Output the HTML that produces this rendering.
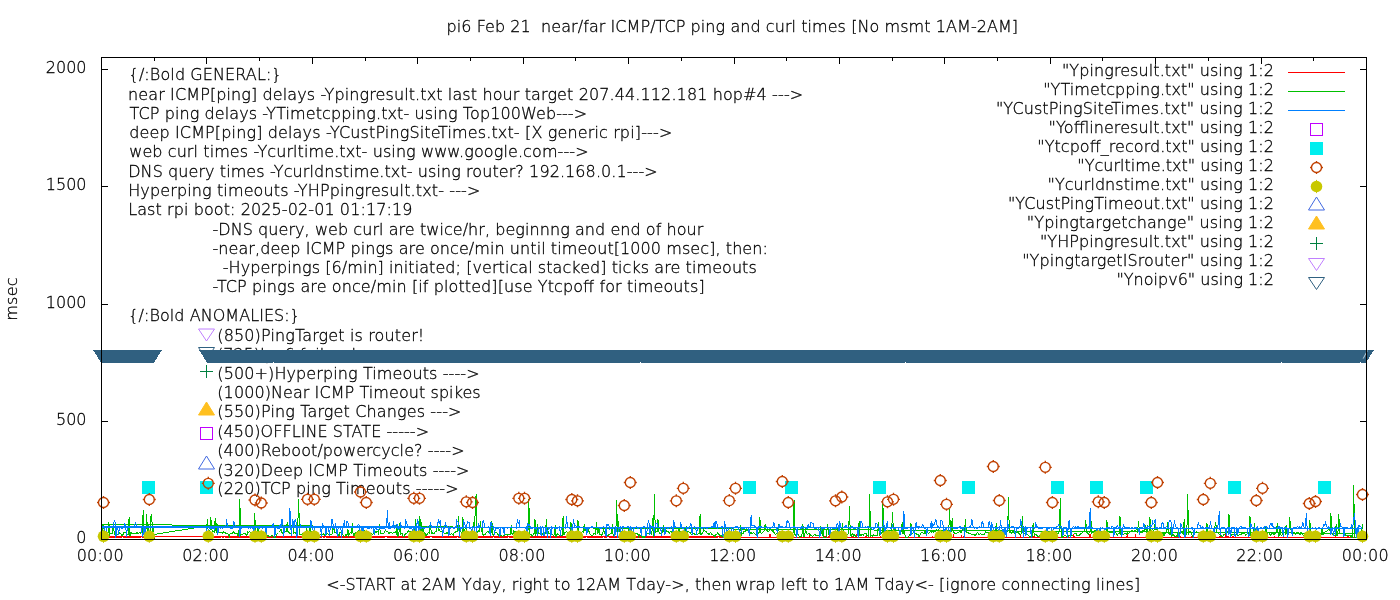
<!DOCTYPE html>
<html lang="en"><head><meta charset="utf-8"><title>pi6 ping plot</title>
<style>html,body{margin:0;padding:0;background:#fff}svg{display:block}text{font-family:"DejaVu Sans","Liberation Sans",sans-serif;font-size:16px;font-weight:200;fill:#000;stroke:#000;stroke-width:0.3px}.ln{fill:none;stroke-width:1;shape-rendering:crispEdges}.cr{shape-rendering:crispEdges}</style></head><body>
<svg width="1400" height="600" viewBox="0 0 1400 600">
<rect width="1400" height="600" fill="#fff"/>
<text transform="translate(17,299) rotate(-90)" text-anchor="middle" letter-spacing="0.2">msec</text>
<text id="t0" x="446.49" y="31.70" textLength="571.62" lengthAdjust="spacing" xml:space="preserve">pi6 Feb 21  near/far ICMP/TCP ping and curl times [No msmt 1AM-2AM]</text>
<text id="t1" x="326.30" y="590.00" textLength="405.23" lengthAdjust="spacing" xml:space="preserve">&lt;-START at 2AM Yday, right to 12AM Tday-&gt;, then</text>
<text id="t2" x="735.50" y="590.00" textLength="404.63" lengthAdjust="spacing" xml:space="preserve">wrap left to 1AM Tday&lt;- [ignore connecting lines]</text>
<text id="t3" x="86.50" y="542.50" text-anchor="end" letter-spacing="0" xml:space="preserve">0</text>
<text id="t4" x="86.50" y="424.50" text-anchor="end" letter-spacing="0" xml:space="preserve">500</text>
<text id="t5" x="86.50" y="307.50" text-anchor="end" letter-spacing="0" xml:space="preserve">1000</text>
<text id="t6" x="86.50" y="189.50" text-anchor="end" letter-spacing="0" xml:space="preserve">1500</text>
<text id="t7" x="86.50" y="72.50" text-anchor="end" letter-spacing="0" xml:space="preserve">2000</text>
<text id="t8" x="100.30" y="561.30" text-anchor="middle" letter-spacing="0.2" xml:space="preserve">00:00</text>
<text id="t9" x="205.72" y="561.30" text-anchor="middle" letter-spacing="0.2" xml:space="preserve">02:00</text>
<text id="t10" x="311.13" y="561.30" text-anchor="middle" letter-spacing="0.2" xml:space="preserve">04:00</text>
<text id="t11" x="416.55" y="561.30" text-anchor="middle" letter-spacing="0.2" xml:space="preserve">06:00</text>
<text id="t12" x="521.97" y="561.30" text-anchor="middle" letter-spacing="0.2" xml:space="preserve">08:00</text>
<text id="t13" x="627.38" y="561.30" text-anchor="middle" letter-spacing="0.2" xml:space="preserve">10:00</text>
<text id="t14" x="732.80" y="561.30" text-anchor="middle" letter-spacing="0.2" xml:space="preserve">12:00</text>
<text id="t15" x="838.22" y="561.30" text-anchor="middle" letter-spacing="0.2" xml:space="preserve">14:00</text>
<text id="t16" x="943.63" y="561.30" text-anchor="middle" letter-spacing="0.2" xml:space="preserve">16:00</text>
<text id="t17" x="1049.05" y="561.30" text-anchor="middle" letter-spacing="0.2" xml:space="preserve">18:00</text>
<text id="t18" x="1154.47" y="561.30" text-anchor="middle" letter-spacing="0.2" xml:space="preserve">20:00</text>
<text id="t19" x="1259.88" y="561.30" text-anchor="middle" letter-spacing="0.2" xml:space="preserve">22:00</text>
<text id="t20" x="1365.30" y="561.30" text-anchor="middle" letter-spacing="0.2" xml:space="preserve">00:00</text>
<text id="t21" x="128.60" y="80.00" textLength="153.01" lengthAdjust="spacing" xml:space="preserve">{/:Bold GENERAL:}</text>
<text id="t22" x="128.10" y="100.00" textLength="675.07" lengthAdjust="spacing" xml:space="preserve">near ICMP[ping] delays -Ypingresult.txt last hour target 207.44.112.181 hop#4 ---&gt;</text>
<text id="t23" x="129.50" y="119.00" textLength="457.65" lengthAdjust="spacing" xml:space="preserve">TCP ping delays -YTimetcpping.txt- using Top100Web---&gt;</text>
<text id="t24" x="129.20" y="138.00" textLength="543.09" lengthAdjust="spacing" xml:space="preserve">deep ICMP[ping] delays -YCustPingSiteTimes.txt- [X generic rpi]---&gt;</text>
<text id="t25" x="129.20" y="157.00" textLength="459.39" lengthAdjust="spacing" xml:space="preserve">web curl times -Ycurltime.txt- using www.google.com---&gt;</text>
<text id="t26" x="128.20" y="177.00" textLength="529.53" lengthAdjust="spacing" xml:space="preserve">DNS query times -Ycurldnstime.txt- using router? 192.168.0.1---&gt;</text>
<text id="t27" x="128.20" y="196.00" textLength="352.21" lengthAdjust="spacing" xml:space="preserve">Hyperping timeouts -YHPpingresult.txt- ---&gt;</text>
<text id="t28" x="128.20" y="215.00" textLength="284.19" lengthAdjust="spacing" xml:space="preserve">Last rpi boot: 2025-02-01 01:17:19</text>
<text id="t29" x="212.50" y="235.00" textLength="490.90" lengthAdjust="spacing" xml:space="preserve">-DNS query, web curl are twice/hr, beginnng and end of hour</text>
<text id="t30" x="212.50" y="254.00" textLength="555.39" lengthAdjust="spacing" xml:space="preserve">-near,deep ICMP pings are once/min until timeout[1000 msec], then:</text>
<text id="t31" x="222.75" y="273.00" textLength="534.06" lengthAdjust="spacing" xml:space="preserve">-Hyperpings [6/min] initiated; [vertical stacked] ticks are timeouts</text>
<text id="t32" x="212.50" y="292.00" textLength="492.14" lengthAdjust="spacing" xml:space="preserve">-TCP pings are once/min [if plotted][use Ytcpoff for timeouts]</text>
<text id="t33" x="128.25" y="321.00" textLength="171.69" lengthAdjust="spacing" xml:space="preserve">{/:Bold ANOMALIES:}</text>
<text id="t34" x="217.30" y="340.50" textLength="206.97" lengthAdjust="spacing" xml:space="preserve">(850)PingTarget is router!</text>
<text id="t35" x="217.00" y="360.00" textLength="139.89" lengthAdjust="spacing" xml:space="preserve">(725)Ipv6 failure!</text>
<text id="t36" x="217.30" y="379.00" textLength="262.32" lengthAdjust="spacing" xml:space="preserve">(500+)Hyperping Timeouts ----&gt;</text>
<text id="t37" x="217.30" y="398.00" textLength="263.37" lengthAdjust="spacing" xml:space="preserve">(1000)Near ICMP Timeout spikes</text>
<text id="t38" x="217.30" y="417.00" textLength="244.18" lengthAdjust="spacing" xml:space="preserve">(550)Ping Target Changes ---&gt;</text>
<text id="t39" x="217.30" y="437.00" textLength="211.75" lengthAdjust="spacing" xml:space="preserve">(450)OFFLINE STATE -----&gt;</text>
<text id="t40" x="217.30" y="456.00" textLength="247.30" lengthAdjust="spacing" xml:space="preserve">(400)Reboot/powercycle? ----&gt;</text>
<text id="t41" x="217.30" y="475.50" textLength="252.18" lengthAdjust="spacing" xml:space="preserve">(320)Deep ICMP Timeouts ----&gt;</text>
<text id="t42" x="217.30" y="494.00" textLength="241.35" lengthAdjust="spacing" xml:space="preserve">(220)TCP ping Timeouts -----&gt;</text>
<text id="t43" x="1061.90" y="76.00" textLength="212.00" lengthAdjust="spacing" xml:space="preserve">"Ypingresult.txt" using 1:2</text>
<text id="t44" x="1043.19" y="95.00" textLength="230.71" lengthAdjust="spacing" xml:space="preserve">"YTimetcpping.txt" using 1:2</text>
<text id="t45" x="995.90" y="114.00" textLength="278.00" lengthAdjust="spacing" xml:space="preserve">"YCustPingSiteTimes.txt" using 1:2</text>
<text id="t46" x="1048.58" y="133.00" textLength="225.32" lengthAdjust="spacing" xml:space="preserve">"Yofflineresult.txt" using 1:2</text>
<text id="t47" x="1037.27" y="152.00" textLength="236.63" lengthAdjust="spacing" xml:space="preserve">"Ytcpoff_record.txt" using 1:2</text>
<text id="t48" x="1077.30" y="171.00" textLength="196.60" lengthAdjust="spacing" xml:space="preserve">"Ycurltime.txt" using 1:2</text>
<text id="t49" x="1047.48" y="190.00" textLength="226.42" lengthAdjust="spacing" xml:space="preserve">"Ycurldnstime.txt" using 1:2</text>
<text id="t50" x="1007.92" y="209.00" textLength="265.98" lengthAdjust="spacing" xml:space="preserve">"YCustPingTimeout.txt" using 1:2</text>
<text id="t51" x="1026.76" y="228.00" textLength="247.14" lengthAdjust="spacing" xml:space="preserve">"Ypingtargetchange" using 1:2</text>
<text id="t52" x="1039.93" y="247.00" textLength="233.97" lengthAdjust="spacing" xml:space="preserve">"YHPpingresult.txt" using 1:2</text>
<text id="t53" x="1022.15" y="266.00" textLength="251.75" lengthAdjust="spacing" xml:space="preserve">"YpingtargetISrouter" using 1:2</text>
<text id="t54" x="1116.43" y="285.00" textLength="157.47" lengthAdjust="spacing" xml:space="preserve">"Ynoipv6" using 1:2</text>
<g class="cr" stroke="#000" stroke-width="1" fill="none">
<path d="M101 539.5H108 M1367 539.5H1360"/>
<path d="M101 421.5H108 M1367 421.5H1360"/>
<path d="M101 304.5H108 M1367 304.5H1360"/>
<path d="M101 186.5H108 M1367 186.5H1360"/>
<path d="M101 69.5H108 M1367 69.5H1360"/>
<path d="M101.5 540V533 M101.5 57V64"/>
<path d="M154.5 540V536 M154.5 57V61"/>
<path d="M206.5 540V533 M206.5 57V64"/>
<path d="M259.5 540V536 M259.5 57V61"/>
<path d="M312.5 540V533 M312.5 57V64"/>
<path d="M365.5 540V536 M365.5 57V61"/>
<path d="M417.5 540V533 M417.5 57V64"/>
<path d="M470.5 540V536 M470.5 57V61"/>
<path d="M523.5 540V533 M523.5 57V64"/>
<path d="M575.5 540V536 M575.5 57V61"/>
<path d="M628.5 540V533 M628.5 57V64"/>
<path d="M681.5 540V536 M681.5 57V61"/>
<path d="M734.5 540V533 M734.5 57V64"/>
<path d="M786.5 540V536 M786.5 57V61"/>
<path d="M839.5 540V533 M839.5 57V64"/>
<path d="M892.5 540V536 M892.5 57V61"/>
<path d="M944.5 540V533 M944.5 57V64"/>
<path d="M997.5 540V536 M997.5 57V61"/>
<path d="M1050.5 540V533 M1050.5 57V64"/>
<path d="M1102.5 540V536 M1102.5 57V61"/>
<path d="M1155.5 540V533 M1155.5 57V64"/>
<path d="M1208.5 540V536 M1208.5 57V61"/>
<path d="M1261.5 540V533 M1261.5 57V64"/>
<path d="M1313.5 540V536 M1313.5 57V61"/>
<path d="M1366.5 540V533 M1366.5 57V64"/>
</g>
<path d="M206.5 341.0L198.5 329.0L214.5 329.0Z" fill="none" stroke="#c080ff"/>
<path d="M206.5 359.5L198.5 347.5L214.5 347.5Z" fill="none" stroke="#306080"/>
<path class="cr" d="M200.0 371.5h13 M206.5 365.0v13" stroke="#008040" fill="none"/>
<path d="M206.5 402.0L198.5 415.0L214.5 415.0Z" fill="#ffc020" stroke="#ffc020"/>
<rect class="cr" x="200.5" y="427.5" width="12" height="12" fill="none" stroke="#c000ff"/>
<path d="M206.5 456.0L198.5 469.0L214.5 469.0Z" fill="none" stroke="#4169e1"/>
<path class="ln" d="M1288 72.5H1345" stroke="#ff0000"/>
<path class="ln" d="M1288 91.5H1345" stroke="#00c000"/>
<path class="ln" d="M1288 110.5H1345" stroke="#0080ff"/>
<rect class="cr" x="1310.5" y="123.5" width="12" height="12" fill="none" stroke="#c000ff"/>
<rect class="cr" x="1310.0" y="142.0" width="13" height="13" fill="#00eeee"/>
<g stroke="#c04000" fill="none" stroke-width="1.35"><circle cx="1316.5" cy="167.5" r="5.0"/><path d="M1316.5 163.0v-2 M1316.5 172.0v2 M1312.0 167.5h-2 M1321.0 167.5h2"/></g>
<circle cx="1316.5" cy="186.5" r="5.8" fill="#c8c800"/><path d="M1316.5 191.3v1.8M1316.5 181.7v-1.8" stroke="#c8c800"/>
<path d="M1316.5 197.0L1308.5 210.0L1324.5 210.0Z" fill="none" stroke="#4169e1"/>
<path d="M1316.5 216.0L1308.5 229.0L1324.5 229.0Z" fill="#ffc020" stroke="#ffc020"/>
<path class="cr" d="M1310.0 243.5h13 M1316.5 237.0v13" stroke="#008040" fill="none"/>
<path d="M1316.5 270.5L1308.5 258.5L1324.5 258.5Z" fill="none" stroke="#c080ff"/>
<path d="M1316.5 289.5L1308.5 277.5L1324.5 277.5Z" fill="none" stroke="#306080"/>
<g class="cr" fill="#ff0000">
<rect x="102.0" y="536" width="51.7" height="2"/>
<rect x="153.7" y="536" width="52.7" height="1"/>
<rect x="206.4" y="536" width="534.6" height="2"/>
<rect x="741" y="537" width="621.5" height="1"/>
<rect x="769" y="534" width="2" height="3"/>
<rect x="809" y="535" width="1" height="2"/>
<rect x="824" y="536" width="2" height="1"/>
<rect x="828" y="536" width="1" height="1"/>
<rect x="829" y="535" width="1" height="2"/>
<rect x="844" y="534" width="1" height="3"/>
<rect x="851" y="536" width="2" height="1"/>
<rect x="856" y="534" width="1" height="3"/>
<rect x="865" y="536" width="2" height="1"/>
<rect x="880" y="536" width="1" height="1"/>
<rect x="889" y="534" width="1" height="3"/>
<rect x="914" y="534" width="1" height="3"/>
<rect x="932" y="536" width="1" height="1"/>
<rect x="948" y="536" width="1" height="1"/>
<rect x="949" y="536" width="1" height="1"/>
<rect x="953" y="534" width="1" height="3"/>
<rect x="961" y="535" width="1" height="2"/>
<rect x="963" y="536" width="1" height="1"/>
<rect x="1015" y="536" width="1" height="1"/>
<rect x="1020" y="534" width="1" height="3"/>
<rect x="1033" y="536" width="1" height="1"/>
<rect x="1034" y="534" width="1" height="3"/>
<rect x="1054" y="536" width="1" height="1"/>
<rect x="1073" y="534" width="1" height="3"/>
<rect x="1074" y="536" width="1" height="1"/>
<rect x="1089" y="534" width="2" height="3"/>
<rect x="1105" y="535" width="2" height="2"/>
<rect x="1109" y="536" width="1" height="1"/>
<rect x="1126" y="536" width="2" height="1"/>
<rect x="1127" y="534" width="1" height="3"/>
<rect x="1135" y="534" width="1" height="3"/>
<rect x="1180" y="536" width="1" height="1"/>
<rect x="1191" y="536" width="1" height="1"/>
<rect x="1219" y="536" width="2" height="1"/>
<rect x="1225" y="534" width="2" height="3"/>
<rect x="1226" y="534" width="1" height="3"/>
<rect x="1227" y="536" width="2" height="1"/>
<rect x="1232" y="536" width="2" height="1"/>
<rect x="1251" y="535" width="1" height="2"/>
<rect x="1257" y="536" width="2" height="1"/>
<rect x="1274" y="536" width="1" height="1"/>
<rect x="1318" y="536" width="1" height="1"/>
<rect x="1335" y="534" width="1" height="3"/>
<rect x="1347" y="535" width="2" height="2"/>
<rect x="1362" y="536" width="1" height="1"/>
</g>
<g class="cr" fill="#fff">
<rect x="122" y="537" width="1" height="1"/>
<rect x="141" y="537" width="1" height="1"/>
<rect x="152" y="537" width="1" height="1"/>
<rect x="221" y="537" width="1" height="1"/>
<rect x="224" y="537" width="1" height="1"/>
<rect x="260" y="537" width="1" height="1"/>
<rect x="322" y="537" width="1" height="1"/>
<rect x="325" y="537" width="1" height="1"/>
<rect x="385" y="537" width="1" height="1"/>
<rect x="386" y="537" width="1" height="1"/>
<rect x="422" y="537" width="1" height="1"/>
<rect x="430" y="537" width="1" height="1"/>
<rect x="431" y="537" width="1" height="1"/>
<rect x="457" y="537" width="1" height="1"/>
<rect x="475" y="537" width="1" height="1"/>
<rect x="493" y="537" width="1" height="1"/>
<rect x="508" y="537" width="1" height="1"/>
<rect x="568" y="537" width="1" height="1"/>
<rect x="574" y="537" width="1" height="1"/>
<rect x="586" y="537" width="1" height="1"/>
<rect x="603" y="537" width="1" height="1"/>
<rect x="607" y="537" width="1" height="1"/>
<rect x="608" y="537" width="1" height="1"/>
<rect x="631" y="537" width="1" height="1"/>
<rect x="718" y="537" width="1" height="1"/>
<rect x="729" y="537" width="1" height="1"/>
<rect x="734" y="537" width="1" height="1"/>
</g>
<path class="ln" stroke="#00c000" d="M101.0 533.5L101.9 533.5L102.8 525.5L103.6 525.5L104.5 533.5L105.4 533.5L106.3 533.5L107.1 532.5L108.0 533.5L108.9 522.5L109.8 534.5L110.7 533.5L111.5 533.5L112.4 533.5L113.3 522.5L114.2 533.5L115.1 534.5L115.9 534.5L116.8 535.5L117.7 534.5L118.6 534.5L119.4 532.5L120.3 533.5L121.2 534.5L122.1 535.5L123.0 534.5L123.8 532.5L124.7 532.5L125.6 532.5L126.5 533.5L127.4 534.5L128.2 534.5L129.1 517.5L130.0 535.5L130.9 532.5L131.7 533.5L132.6 533.5L133.5 533.5L134.4 533.5L135.3 533.5L136.1 533.5L137.0 532.5L137.9 533.5L138.8 533.5L139.7 532.5L140.5 533.5L141.4 531.5L142.3 533.5L143.2 510.5L144.0 532.5L144.9 533.5L145.8 533.5L146.7 514.5L147.6 536.5L148.4 524.5L149.3 537.5L150.2 534.5L151.1 514.5L152.0 521.5L152.8 533.5L153.7 527.5M206.4 532.5L207.3 519.5L208.2 531.5L209.1 531.5L209.9 531.5L210.8 517.5L211.7 529.5L212.6 531.5L213.4 531.5L214.3 532.5L215.2 518.5L216.1 532.5L217.0 523.5L217.8 530.5L218.7 531.5L219.6 532.5L220.5 532.5L221.4 532.5L222.2 533.5L223.1 531.5L224.0 532.5L224.9 532.5L225.7 533.5L226.6 533.5L227.5 533.5L228.4 534.5L229.3 536.5L230.1 533.5L231.0 533.5L231.9 533.5L232.8 532.5L233.6 531.5L234.5 533.5L235.4 533.5L236.3 533.5L237.2 533.5L238.0 535.5L238.9 534.5L239.8 499.5L240.7 535.5L241.6 534.5L242.4 534.5L243.3 533.5L244.2 533.5L245.1 533.5L245.9 534.5L246.8 535.5L247.7 531.5L248.6 532.5L249.5 531.5L250.3 532.5L251.2 532.5L252.1 532.5L253.0 533.5L253.9 533.5L254.7 513.5L255.6 533.5L256.5 532.5L257.4 533.5L258.2 526.5L259.1 534.5L260.0 532.5L260.9 532.5L261.8 533.5L262.6 534.5L263.5 536.5L264.4 536.5L265.3 535.5L266.2 534.5L267.0 535.5L267.9 535.5L268.8 536.5L269.7 536.5L270.5 536.5L271.4 535.5L272.3 535.5L273.2 537.5L274.1 537.5L274.9 537.5L275.8 536.5L276.7 534.5L277.6 533.5L278.5 532.5L279.3 531.5L280.2 530.5L281.1 529.5L282.0 532.5L282.8 533.5L283.7 532.5L284.6 532.5L285.5 531.5L286.4 531.5L287.2 522.5L288.1 532.5L289.0 532.5L289.9 533.5L290.8 533.5L291.6 532.5L292.5 521.5L293.4 533.5L294.3 532.5L295.1 532.5L296.0 533.5L296.9 535.5L297.8 524.5L298.7 499.5L299.5 534.5L300.4 534.5L301.3 534.5L302.2 533.5L303.0 534.5L303.9 533.5L304.8 533.5L305.7 533.5L306.6 526.5L307.4 533.5L308.3 532.5L309.2 533.5L310.1 526.5L311.0 531.5L311.8 532.5L312.7 535.5L313.6 534.5L314.5 535.5L315.3 534.5L316.2 535.5L317.1 535.5L318.0 534.5L318.9 535.5L319.7 535.5L320.6 534.5L321.5 534.5L322.4 534.5L323.3 533.5L324.1 535.5L325.0 534.5L325.9 533.5L326.8 534.5L327.6 533.5L328.5 534.5L329.4 534.5L330.3 534.5L331.2 534.5L332.0 534.5L332.9 527.5L333.8 528.5L334.7 532.5L335.6 532.5L336.4 531.5L337.3 533.5L338.2 534.5L339.1 535.5L339.9 532.5L340.8 532.5L341.7 533.5L342.6 534.5L343.5 535.5L344.3 536.5L345.2 535.5L346.1 534.5L347.0 535.5L347.9 529.5L348.7 535.5L349.6 533.5L350.5 532.5L351.4 533.5L352.2 523.5L353.1 534.5L354.0 535.5L354.9 533.5L355.8 532.5L356.6 533.5L357.5 531.5L358.4 530.5L359.3 531.5L360.1 532.5L361.0 534.5L361.9 533.5L362.8 533.5L363.7 528.5L364.5 532.5L365.4 533.5L366.3 535.5L367.2 535.5L368.1 535.5L368.9 534.5L369.8 534.5L370.7 533.5L371.6 533.5L372.4 534.5L373.3 533.5L374.2 533.5L375.1 532.5L376.0 531.5L376.8 532.5L377.7 531.5L378.6 533.5L379.5 524.5L380.4 533.5L381.2 533.5L382.1 533.5L383.0 533.5L383.9 533.5L384.7 531.5L385.6 530.5L386.5 531.5L387.4 531.5L388.3 532.5L389.1 533.5L390.0 532.5L390.9 532.5L391.8 532.5L392.7 533.5L393.5 532.5L394.4 532.5L395.3 531.5L396.2 533.5L397.0 524.5L397.9 535.5L398.8 534.5L399.7 523.5L400.6 534.5L401.4 533.5L402.3 533.5L403.2 536.5L404.1 536.5L405.0 534.5L405.8 533.5L406.7 533.5L407.6 532.5L408.5 530.5L409.3 531.5L410.2 531.5L411.1 531.5L412.0 531.5L412.9 530.5L413.7 532.5L414.6 533.5L415.5 519.5L416.4 533.5L417.2 533.5L418.1 533.5L419.0 533.5L419.9 516.5L420.8 533.5L421.6 522.5L422.5 533.5L423.4 526.5L424.3 534.5L425.2 533.5L426.0 535.5L426.9 534.5L427.8 533.5L428.7 532.5L429.5 533.5L430.4 523.5L431.3 533.5L432.2 532.5L433.1 533.5L433.9 533.5L434.8 532.5L435.7 531.5L436.6 531.5L437.5 524.5L438.3 530.5L439.2 529.5L440.1 531.5L441.0 531.5L441.8 531.5L442.7 532.5L443.6 532.5L444.5 533.5L445.4 533.5L446.2 533.5L447.1 532.5L448.0 533.5L448.9 534.5L449.8 534.5L450.6 534.5L451.5 533.5L452.4 534.5L453.3 535.5L454.1 532.5L455.0 532.5L455.9 531.5L456.8 531.5L457.7 531.5L458.5 516.5L459.4 531.5L460.3 530.5L461.2 532.5L462.1 533.5L462.9 517.5L463.8 531.5L464.7 531.5L465.6 525.5L466.4 532.5L467.3 532.5L468.2 532.5L469.1 534.5L470.0 532.5L470.8 531.5L471.7 531.5L472.6 531.5L473.5 522.5L474.4 525.5L475.2 513.5L476.1 494.5L477.0 531.5L477.9 532.5L478.7 530.5L479.6 531.5L480.5 521.5L481.4 531.5L482.3 525.5L483.1 535.5L484.0 534.5L484.9 534.5L485.8 533.5L486.6 532.5L487.5 531.5L488.4 531.5L489.3 533.5L490.2 534.5L491.0 533.5L491.9 521.5L492.8 534.5L493.7 535.5L494.6 532.5L495.4 532.5L496.3 532.5L497.2 533.5L498.1 534.5L498.9 535.5L499.8 535.5L500.7 535.5L501.6 535.5L502.5 536.5L503.3 535.5L504.2 535.5L505.1 534.5L506.0 534.5L506.9 534.5L507.7 535.5L508.6 534.5L509.5 534.5L510.4 534.5L511.2 525.5L512.1 534.5L513.0 533.5L513.9 530.5L514.8 533.5L515.6 531.5L516.5 531.5L517.4 534.5L518.3 534.5L519.2 535.5L520.0 534.5L520.9 533.5L521.8 533.5L522.7 533.5L523.5 533.5L524.4 532.5L525.3 533.5L526.2 533.5L527.1 534.5L527.9 534.5L528.8 499.5L529.7 535.5L530.6 534.5L531.5 534.5L532.3 536.5L533.2 534.5L534.1 533.5L535.0 519.5L535.8 534.5L536.7 533.5L537.6 524.5L538.5 533.5L539.4 533.5L540.2 533.5L541.1 534.5L542.0 534.5L542.9 533.5L543.8 533.5L544.6 533.5L545.5 533.5L546.4 519.5L547.3 532.5L548.1 531.5L549.0 533.5L549.9 533.5L550.8 533.5L551.7 533.5L552.5 534.5L553.4 535.5L554.3 534.5L555.2 525.5L556.0 536.5L556.9 534.5L557.8 533.5L558.7 534.5L559.6 535.5L560.4 535.5L561.3 535.5L562.2 535.5L563.1 516.5L564.0 534.5L564.8 532.5L565.7 532.5L566.6 531.5L567.5 532.5L568.3 532.5L569.2 531.5L570.1 531.5L571.0 522.5L571.9 533.5L572.7 533.5L573.6 533.5L574.5 533.5L575.4 535.5L576.3 537.5L577.1 536.5L578.0 520.5L578.9 537.5L579.8 535.5L580.6 532.5L581.5 532.5L582.4 531.5L583.3 532.5L584.2 524.5L585.0 530.5L585.9 529.5L586.8 529.5L587.7 528.5L588.6 530.5L589.4 532.5L590.3 534.5L591.2 535.5L592.1 535.5L592.9 535.5L593.8 533.5L594.7 533.5L595.6 534.5L596.5 522.5L597.3 533.5L598.2 532.5L599.1 527.5L600.0 534.5L600.9 534.5L601.7 535.5L602.6 534.5L603.5 528.5L604.4 533.5L605.2 533.5L606.1 534.5L607.0 535.5L607.9 535.5L608.8 534.5L609.6 534.5L610.5 533.5L611.4 533.5L612.3 524.5L613.1 535.5L614.0 535.5L614.9 533.5L615.8 533.5L616.7 500.5L617.5 532.5L618.4 521.5L619.3 531.5L620.2 531.5L621.1 531.5L621.9 533.5L622.8 534.5L623.7 534.5L624.6 534.5L625.4 533.5L626.3 533.5L627.2 535.5L628.1 534.5L629.0 526.5L629.8 533.5L630.7 534.5L631.6 535.5L632.5 536.5L633.4 536.5L634.2 535.5L635.1 533.5L636.0 533.5L636.9 533.5L637.7 533.5L638.6 536.5L639.5 534.5L640.4 535.5L641.3 535.5L642.1 536.5L643.0 537.5L643.9 536.5L644.8 537.5L645.7 535.5L646.5 534.5L647.4 533.5L648.3 533.5L649.2 533.5L650.0 528.5L650.9 533.5L651.8 534.5L652.7 518.5L653.6 536.5L654.4 494.5L655.3 532.5L656.2 531.5L657.1 531.5L658.0 519.5L658.8 531.5L659.7 533.5L660.6 533.5L661.5 533.5L662.3 532.5L663.2 525.5L664.1 532.5L665.0 531.5L665.9 530.5L666.7 531.5L667.6 531.5L668.5 531.5L669.4 533.5L670.3 531.5L671.1 531.5L672.0 532.5L672.9 532.5L673.8 532.5L674.6 531.5L675.5 532.5L676.4 531.5L677.3 531.5L678.2 532.5L679.0 529.5L679.9 531.5L680.8 532.5L681.7 531.5L682.5 531.5L683.4 532.5L684.3 533.5L685.2 533.5L686.1 526.5L686.9 533.5L687.8 531.5L688.7 531.5L689.6 532.5L690.5 532.5L691.3 534.5L692.2 534.5L693.1 533.5L694.0 533.5L694.8 534.5L695.7 534.5L696.6 534.5L697.5 534.5L698.4 533.5L699.2 533.5L700.1 514.5L701.0 534.5L701.9 533.5L702.8 532.5L703.6 529.5L704.5 530.5L705.4 531.5L706.3 531.5L707.1 533.5L708.0 533.5L708.9 534.5L709.8 533.5L710.7 532.5L711.5 534.5L712.4 534.5L713.3 535.5L714.2 535.5L715.1 536.5L715.9 534.5L716.8 534.5L717.7 532.5L718.6 533.5L719.4 535.5L720.3 535.5L721.2 535.5L722.1 536.5L723.0 534.5L723.8 534.5L724.7 533.5L725.6 534.5L726.5 533.5L727.4 534.5L728.2 535.5L729.1 535.5L730.0 534.5L730.9 533.5L731.7 536.5L732.6 536.5L733.5 536.5L734.4 537.5L735.3 537.5L736.1 536.5L737.0 535.5L737.9 535.5L738.8 535.5L739.6 534.5L740.5 525.5L741.4 535.5L742.3 533.5L743.2 533.5L744.0 531.5L744.9 531.5L745.8 530.5L746.7 530.5L747.6 529.5L748.4 531.5L749.3 532.5L750.2 533.5L751.1 532.5L751.9 533.5L752.8 533.5L753.7 532.5L754.6 533.5L755.5 534.5L756.3 533.5L757.2 531.5L758.1 532.5L759.0 533.5L759.9 517.5L760.7 532.5L761.6 533.5L762.5 532.5L763.4 531.5L764.2 530.5L765.1 524.5L766.0 529.5L766.9 530.5L767.8 531.5L768.6 531.5L769.5 530.5L770.4 529.5L771.3 529.5L772.2 531.5L773.0 530.5L773.9 532.5L774.8 533.5L775.7 534.5L776.5 533.5L777.4 534.5L778.3 524.5L779.2 532.5L780.1 533.5L780.9 533.5L781.8 531.5L782.7 532.5L783.6 533.5L784.5 535.5L785.3 534.5L786.2 534.5L787.1 532.5L788.0 532.5L788.8 534.5L789.7 531.5L790.6 531.5L791.5 532.5L792.4 533.5L793.2 532.5L794.1 500.5L795.0 534.5L795.9 535.5L796.8 534.5L797.6 533.5L798.5 534.5L799.4 537.5L800.3 536.5L801.1 536.5L802.0 534.5L802.9 524.5L803.8 536.5L804.7 536.5L805.5 528.5L806.4 533.5L807.3 534.5L808.2 533.5L809.0 533.5L809.9 534.5L810.8 535.5L811.7 535.5L812.6 536.5L813.4 535.5L814.3 534.5L815.2 534.5L816.1 535.5L817.0 535.5L817.8 535.5L818.7 535.5L819.6 534.5L820.5 526.5L821.3 532.5L822.2 534.5L823.1 527.5L824.0 537.5L824.9 537.5L825.7 537.5L826.6 535.5L827.5 524.5L828.4 534.5L829.3 533.5L830.1 533.5L831.0 532.5L831.9 532.5L832.8 532.5L833.6 532.5L834.5 531.5L835.4 533.5L836.3 533.5L837.2 534.5L838.0 527.5L838.9 533.5L839.8 533.5L840.7 533.5L841.6 532.5L842.4 523.5L843.3 532.5L844.2 533.5L845.1 533.5L845.9 534.5L846.8 535.5L847.7 534.5L848.6 533.5L849.5 506.5L850.3 535.5L851.2 536.5L852.1 533.5L853.0 534.5L853.9 536.5L854.7 534.5L855.6 536.5L856.5 536.5L857.4 535.5L858.2 534.5L859.1 521.5L860.0 535.5L860.9 534.5L861.8 535.5L862.6 534.5L863.5 535.5L864.4 533.5L865.3 533.5L866.1 533.5L867.0 535.5L867.9 535.5L868.8 536.5L869.7 494.5L870.5 536.5L871.4 535.5L872.3 536.5L873.2 534.5L874.1 535.5L874.9 535.5L875.8 535.5L876.7 535.5L877.6 535.5L878.4 522.5L879.3 535.5L880.2 533.5L881.1 532.5L882.0 533.5L882.8 500.5L883.7 532.5L884.6 532.5L885.5 532.5L886.4 531.5L887.2 531.5L888.1 534.5L889.0 533.5L889.9 533.5L890.7 532.5L891.6 532.5L892.5 512.5L893.4 531.5L894.3 530.5L895.1 529.5L896.0 532.5L896.9 534.5L897.8 534.5L898.7 534.5L899.5 534.5L900.4 533.5L901.3 531.5L902.2 522.5L903.0 533.5L903.9 529.5L904.8 534.5L905.7 537.5L906.6 537.5L907.4 537.5L908.3 536.5L909.2 535.5L910.1 534.5L911.0 523.5L911.8 533.5L912.7 533.5L913.6 531.5L914.5 532.5L915.3 533.5L916.2 533.5L917.1 534.5L918.0 534.5L918.9 536.5L919.7 535.5L920.6 533.5L921.5 532.5L922.4 532.5L923.2 533.5L924.1 533.5L925.0 531.5L925.9 533.5L926.8 533.5L927.6 532.5L928.5 533.5L929.4 532.5L930.3 531.5L931.2 532.5L932.0 531.5L932.9 531.5L933.8 532.5L934.7 531.5L935.5 531.5L936.4 529.5L937.3 530.5L938.2 529.5L939.1 530.5L939.9 533.5L940.8 532.5L941.7 532.5L942.6 532.5L943.5 532.5L944.3 532.5L945.2 533.5L946.1 533.5L947.0 534.5L947.8 535.5L948.7 533.5L949.6 509.5L950.5 531.5L951.4 531.5L952.2 518.5L953.1 532.5L954.0 532.5L954.9 533.5L955.8 533.5L956.6 533.5L957.5 532.5L958.4 532.5L959.3 531.5L960.1 530.5L961.0 532.5L961.9 531.5L962.8 529.5L963.7 529.5L964.5 532.5L965.4 519.5L966.3 532.5L967.2 532.5L968.1 532.5L968.9 533.5L969.8 533.5L970.7 533.5L971.6 534.5L972.4 534.5L973.3 534.5L974.2 534.5L975.1 535.5L976.0 534.5L976.8 533.5L977.7 532.5L978.6 534.5L979.5 534.5L980.4 533.5L981.2 534.5L982.1 534.5L983.0 534.5L983.9 534.5L984.7 533.5L985.6 531.5L986.5 532.5L987.4 532.5L988.3 533.5L989.1 532.5L990.0 533.5L990.9 534.5L991.8 533.5L992.6 533.5L993.5 533.5L994.4 533.5L995.3 535.5L996.2 523.5L997.0 535.5L997.9 535.5L998.8 535.5L999.7 535.5L1000.6 535.5L1001.4 534.5L1002.3 534.5L1003.2 533.5L1004.1 532.5L1004.9 532.5L1005.8 531.5L1006.7 531.5L1007.6 531.5L1008.5 497.5L1009.3 532.5L1010.2 531.5L1011.1 533.5L1012.0 532.5L1012.9 531.5L1013.7 532.5L1014.6 533.5L1015.5 533.5L1016.4 532.5L1017.2 531.5L1018.1 532.5L1019.0 533.5L1019.9 534.5L1020.8 534.5L1021.6 532.5L1022.5 516.5L1023.4 533.5L1024.3 533.5L1025.2 533.5L1026.0 533.5L1026.9 534.5L1027.8 534.5L1028.7 535.5L1029.5 537.5L1030.4 536.5L1031.3 537.5L1032.2 536.5L1033.1 523.5L1033.9 532.5L1034.8 535.5L1035.7 534.5L1036.6 534.5L1037.5 536.5L1038.3 536.5L1039.2 535.5L1040.1 536.5L1041.0 534.5L1041.8 533.5L1042.7 535.5L1043.6 534.5L1044.5 533.5L1045.4 534.5L1046.2 534.5L1047.1 532.5L1048.0 534.5L1048.9 531.5L1049.8 534.5L1050.6 536.5L1051.5 536.5L1052.4 534.5L1053.3 534.5L1054.1 534.5L1055.0 533.5L1055.9 532.5L1056.8 533.5L1057.7 533.5L1058.5 533.5L1059.4 531.5L1060.3 498.5L1061.2 536.5L1062.0 537.5L1062.9 536.5L1063.8 536.5L1064.7 535.5L1065.6 535.5L1066.4 536.5L1067.3 537.5L1068.2 536.5L1069.1 535.5L1070.0 535.5L1070.8 535.5L1071.7 535.5L1072.6 535.5L1073.5 534.5L1074.3 533.5L1075.2 533.5L1076.1 533.5L1077.0 535.5L1077.9 535.5L1078.7 535.5L1079.6 535.5L1080.5 533.5L1081.4 533.5L1082.3 532.5L1083.1 531.5L1084.0 531.5L1084.9 530.5L1085.8 520.5L1086.6 532.5L1087.5 532.5L1088.4 534.5L1089.3 532.5L1090.2 531.5L1091.0 520.5L1091.9 532.5L1092.8 531.5L1093.7 532.5L1094.6 530.5L1095.4 530.5L1096.3 529.5L1097.2 531.5L1098.1 531.5L1098.9 532.5L1099.8 533.5L1100.7 532.5L1101.6 532.5L1102.5 533.5L1103.3 532.5L1104.2 532.5L1105.1 532.5L1106.0 531.5L1106.9 520.5L1107.7 532.5L1108.6 533.5L1109.5 532.5L1110.4 532.5L1111.2 532.5L1112.1 532.5L1113.0 531.5L1113.9 531.5L1114.8 532.5L1115.6 532.5L1116.5 533.5L1117.4 535.5L1118.3 533.5L1119.1 533.5L1120.0 516.5L1120.9 534.5L1121.8 534.5L1122.7 534.5L1123.5 534.5L1124.4 533.5L1125.3 533.5L1126.2 534.5L1127.1 532.5L1127.9 533.5L1128.8 533.5L1129.7 532.5L1130.6 531.5L1131.4 530.5L1132.3 530.5L1133.2 531.5L1134.1 531.5L1135.0 530.5L1135.8 530.5L1136.7 529.5L1137.6 531.5L1138.5 521.5L1139.4 531.5L1140.2 532.5L1141.1 532.5L1142.0 532.5L1142.9 530.5L1143.7 531.5L1144.6 531.5L1145.5 525.5L1146.4 532.5L1147.3 525.5L1148.1 532.5L1149.0 531.5L1149.9 517.5L1150.8 531.5L1151.7 530.5L1152.5 529.5L1153.4 530.5L1154.3 529.5L1155.2 522.5L1156.0 529.5L1156.9 529.5L1157.8 530.5L1158.7 531.5L1159.6 532.5L1160.4 534.5L1161.3 533.5L1162.2 533.5L1163.1 533.5L1164.0 535.5L1164.8 533.5L1165.7 533.5L1166.6 532.5L1167.5 522.5L1168.3 533.5L1169.2 533.5L1170.1 534.5L1171.0 527.5L1171.9 535.5L1172.7 534.5L1173.6 534.5L1174.5 536.5L1175.4 536.5L1176.2 535.5L1177.1 536.5L1178.0 533.5L1178.9 534.5L1179.8 532.5L1180.6 532.5L1181.5 531.5L1182.4 531.5L1183.3 534.5L1184.2 519.5L1185.0 533.5L1185.9 533.5L1186.8 534.5L1187.7 494.5L1188.5 534.5L1189.4 531.5L1190.3 531.5L1191.2 532.5L1192.1 535.5L1192.9 536.5L1193.8 535.5L1194.7 532.5L1195.6 532.5L1196.5 531.5L1197.3 532.5L1198.2 532.5L1199.1 532.5L1200.0 533.5L1200.8 532.5L1201.7 532.5L1202.6 532.5L1203.5 533.5L1204.4 534.5L1205.2 534.5L1206.1 533.5L1207.0 523.5L1207.9 533.5L1208.8 533.5L1209.6 534.5L1210.5 535.5L1211.4 535.5L1212.3 535.5L1213.1 534.5L1214.0 537.5L1214.9 526.5L1215.8 522.5L1216.7 532.5L1217.5 532.5L1218.4 533.5L1219.3 534.5L1220.2 534.5L1221.1 535.5L1221.9 536.5L1222.8 536.5L1223.7 534.5L1224.6 534.5L1225.4 533.5L1226.3 531.5L1227.2 532.5L1228.1 531.5L1229.0 514.5L1229.8 533.5L1230.7 533.5L1231.6 535.5L1232.5 534.5L1233.4 534.5L1234.2 534.5L1235.1 534.5L1236.0 534.5L1236.9 534.5L1237.7 535.5L1238.6 535.5L1239.5 534.5L1240.4 534.5L1241.3 534.5L1242.1 533.5L1243.0 532.5L1243.9 533.5L1244.8 533.5L1245.6 535.5L1246.5 534.5L1247.4 533.5L1248.3 533.5L1249.2 533.5L1250.0 516.5L1250.9 535.5L1251.8 535.5L1252.7 533.5L1253.6 531.5L1254.4 523.5L1255.3 529.5L1256.2 529.5L1257.1 530.5L1257.9 531.5L1258.8 533.5L1259.7 532.5L1260.6 533.5L1261.5 532.5L1262.3 531.5L1263.2 532.5L1264.1 534.5L1265.0 534.5L1265.9 527.5L1266.7 535.5L1267.6 533.5L1268.5 532.5L1269.4 533.5L1270.2 535.5L1271.1 534.5L1272.0 533.5L1272.9 533.5L1273.8 534.5L1274.6 534.5L1275.5 532.5L1276.4 531.5L1277.3 523.5L1278.2 534.5L1279.0 536.5L1279.9 528.5L1280.8 534.5L1281.7 535.5L1282.5 534.5L1283.4 532.5L1284.3 532.5L1285.2 533.5L1286.1 525.5L1286.9 533.5L1287.8 534.5L1288.7 534.5L1289.6 517.5L1290.5 524.5L1291.3 532.5L1292.2 533.5L1293.1 533.5L1294.0 532.5L1294.8 533.5L1295.7 534.5L1296.6 532.5L1297.5 532.5L1298.4 532.5L1299.2 534.5L1300.1 534.5L1301.0 532.5L1301.9 533.5L1302.8 534.5L1303.6 535.5L1304.5 535.5L1305.4 535.5L1306.3 534.5L1307.1 533.5L1308.0 533.5L1308.9 533.5L1309.8 520.5L1310.7 533.5L1311.5 533.5L1312.4 533.5L1313.3 533.5L1314.2 533.5L1315.0 534.5L1315.9 533.5L1316.8 534.5L1317.7 536.5L1318.6 537.5L1319.4 537.5L1320.3 536.5L1321.2 534.5L1322.1 528.5L1323.0 534.5L1323.8 532.5L1324.7 532.5L1325.6 531.5L1326.5 531.5L1327.3 530.5L1328.2 529.5L1329.1 529.5L1330.0 530.5L1330.9 513.5L1331.7 532.5L1332.6 534.5L1333.5 534.5L1334.4 535.5L1335.3 535.5L1336.1 524.5L1337.0 535.5L1337.9 533.5L1338.8 514.5L1339.6 533.5L1340.5 533.5L1341.4 533.5L1342.3 533.5L1343.2 533.5L1344.0 533.5L1344.9 533.5L1345.8 535.5L1346.7 535.5L1347.6 535.5L1348.4 535.5L1349.3 535.5L1350.2 536.5L1351.1 535.5L1351.9 537.5L1352.8 537.5L1353.7 485.5L1354.6 537.5L1355.5 537.5L1356.3 537.5L1357.2 528.5L1358.1 533.5L1359.0 532.5L1359.9 532.5L1360.7 532.5L1361.6 533.5L1362.5 524.5"/>
<path class="ln" stroke="#00c000" d="M1362.5 533.5L102.0 524.5"/>
<path class="ln" stroke="#00c000" d="M153.7 534.5L203.4 526.5"/>
<path class="ln" stroke="#0080ff" d="M101.0 527.5L101.9 526.5L102.8 527.5L103.6 526.5L104.5 526.5L105.4 535.5L106.3 535.5L107.1 527.5L108.0 526.5L108.9 527.5L109.8 527.5L110.7 527.5L111.5 527.5L112.4 526.5L113.3 526.5L114.2 520.5L115.1 522.5L115.9 537.5L116.8 527.5L117.7 527.5L118.6 534.5L119.4 527.5L120.3 527.5L121.2 527.5L122.1 528.5L123.0 527.5L123.8 527.5L124.7 523.5L125.6 524.5L126.5 536.5L127.4 526.5L128.2 527.5L129.1 527.5L130.0 527.5L130.9 526.5L131.7 527.5L132.6 527.5L133.5 527.5L134.4 527.5L135.3 522.5L136.1 524.5L137.0 527.5L137.9 526.5L138.8 527.5L139.7 526.5L140.5 526.5L141.4 526.5L142.3 536.5L143.2 534.5L144.0 527.5L144.9 535.5L145.8 527.5L146.7 527.5L147.6 527.5L148.4 527.5L149.3 527.5L150.2 526.5L151.1 526.5L152.0 526.5L152.8 527.5L153.7 526.5M206.4 527.5L207.3 535.5L208.2 534.5L209.1 528.5L209.9 527.5L210.8 528.5L211.7 528.5L212.6 528.5L213.4 528.5L214.3 529.5L215.2 527.5L216.1 527.5L217.0 527.5L217.8 534.5L218.7 528.5L219.6 527.5L220.5 528.5L221.4 527.5L222.2 528.5L223.1 527.5L224.0 527.5L224.9 527.5L225.7 527.5L226.6 519.5L227.5 526.5L228.4 527.5L229.3 526.5L230.1 527.5L231.0 528.5L231.9 528.5L232.8 528.5L233.6 521.5L234.5 522.5L235.4 527.5L236.3 526.5L237.2 527.5L238.0 526.5L238.9 526.5L239.8 536.5L240.7 527.5L241.6 528.5L242.4 527.5L243.3 527.5L244.2 527.5L245.1 527.5L245.9 527.5L246.8 527.5L247.7 527.5L248.6 528.5L249.5 527.5L250.3 528.5L251.2 527.5L252.1 527.5L253.0 528.5L253.9 534.5L254.7 528.5L255.6 527.5L256.5 527.5L257.4 527.5L258.2 528.5L259.1 528.5L260.0 527.5L260.9 527.5L261.8 527.5L262.6 528.5L263.5 527.5L264.4 527.5L265.3 527.5L266.2 534.5L267.0 527.5L267.9 527.5L268.8 526.5L269.7 526.5L270.5 526.5L271.4 526.5L272.3 526.5L273.2 523.5L274.1 526.5L274.9 536.5L275.8 527.5L276.7 527.5L277.6 528.5L278.5 528.5L279.3 528.5L280.2 524.5L281.1 525.5L282.0 519.5L282.8 521.5L283.7 536.5L284.6 527.5L285.5 527.5L286.4 527.5L287.2 526.5L288.1 527.5L289.0 527.5L289.9 508.5L290.8 528.5L291.6 535.5L292.5 519.5L293.4 521.5L294.3 527.5L295.1 519.5L296.0 521.5L296.9 537.5L297.8 527.5L298.7 527.5L299.5 528.5L300.4 524.5L301.3 526.5L302.2 526.5L303.0 527.5L303.9 526.5L304.8 526.5L305.7 526.5L306.6 526.5L307.4 526.5L308.3 526.5L309.2 527.5L310.1 527.5L311.0 520.5L311.8 527.5L312.7 527.5L313.6 535.5L314.5 526.5L315.3 526.5L316.2 527.5L317.1 526.5L318.0 527.5L318.9 527.5L319.7 527.5L320.6 528.5L321.5 536.5L322.4 523.5L323.3 525.5L324.1 527.5L325.0 527.5L325.9 535.5L326.8 526.5L327.6 526.5L328.5 527.5L329.4 535.5L330.3 527.5L331.2 526.5L332.0 519.5L332.9 523.5L333.8 528.5L334.7 528.5L335.6 523.5L336.4 527.5L337.3 536.5L338.2 527.5L339.1 527.5L339.9 526.5L340.8 527.5L341.7 537.5L342.6 527.5L343.5 527.5L344.3 520.5L345.2 527.5L346.1 527.5L347.0 521.5L347.9 522.5L348.7 527.5L349.6 527.5L350.5 527.5L351.4 526.5L352.2 526.5L353.1 527.5L354.0 526.5L354.9 526.5L355.8 526.5L356.6 526.5L357.5 526.5L358.4 524.5L359.3 525.5L360.1 534.5L361.0 535.5L361.9 527.5L362.8 534.5L363.7 527.5L364.5 527.5L365.4 526.5L366.3 527.5L367.2 527.5L368.1 528.5L368.9 528.5L369.8 527.5L370.7 527.5L371.6 528.5L372.4 527.5L373.3 527.5L374.2 534.5L375.1 528.5L376.0 528.5L376.8 529.5L377.7 529.5L378.6 529.5L379.5 528.5L380.4 528.5L381.2 528.5L382.1 528.5L383.0 528.5L383.9 528.5L384.7 528.5L385.6 529.5L386.5 528.5L387.4 510.5L388.3 528.5L389.1 522.5L390.0 528.5L390.9 527.5L391.8 527.5L392.7 527.5L393.5 521.5L394.4 528.5L395.3 527.5L396.2 524.5L397.0 524.5L397.9 528.5L398.8 529.5L399.7 528.5L400.6 522.5L401.4 526.5L402.3 526.5L403.2 527.5L404.1 527.5L405.0 528.5L405.8 520.5L406.7 522.5L407.6 527.5L408.5 527.5L409.3 528.5L410.2 527.5L411.1 528.5L412.0 528.5L412.9 534.5L413.7 527.5L414.6 528.5L415.5 528.5L416.4 536.5L417.2 519.5L418.1 521.5L419.0 536.5L419.9 527.5L420.8 528.5L421.6 528.5L422.5 527.5L423.4 528.5L424.3 528.5L425.2 527.5L426.0 527.5L426.9 527.5L427.8 526.5L428.7 527.5L429.5 527.5L430.4 523.5L431.3 526.5L432.2 526.5L433.1 526.5L433.9 527.5L434.8 526.5L435.7 526.5L436.6 527.5L437.5 527.5L438.3 519.5L439.2 523.5L440.1 520.5L441.0 527.5L441.8 527.5L442.7 536.5L443.6 527.5L444.5 528.5L445.4 522.5L446.2 526.5L447.1 526.5L448.0 526.5L448.9 535.5L449.8 527.5L450.6 528.5L451.5 527.5L452.4 527.5L453.3 528.5L454.1 528.5L455.0 527.5L455.9 527.5L456.8 520.5L457.7 521.5L458.5 522.5L459.4 536.5L460.3 528.5L461.2 528.5L462.1 528.5L462.9 527.5L463.8 521.5L464.7 523.5L465.6 527.5L466.4 528.5L467.3 521.5L468.2 522.5L469.1 522.5L470.0 528.5L470.8 527.5L471.7 535.5L472.6 526.5L473.5 527.5L474.4 526.5L475.2 535.5L476.1 535.5L477.0 526.5L477.9 527.5L478.7 524.5L479.6 526.5L480.5 527.5L481.4 527.5L482.3 527.5L483.1 520.5L484.0 522.5L484.9 527.5L485.8 527.5L486.6 527.5L487.5 527.5L488.4 526.5L489.3 528.5L490.2 535.5L491.0 522.5L491.9 525.5L492.8 525.5L493.7 527.5L494.6 534.5L495.4 527.5L496.3 528.5L497.2 528.5L498.1 528.5L498.9 527.5L499.8 536.5L500.7 528.5L501.6 527.5L502.5 528.5L503.3 528.5L504.2 534.5L505.1 527.5L506.0 527.5L506.9 527.5L507.7 528.5L508.6 527.5L509.5 527.5L510.4 527.5L511.2 526.5L512.1 527.5L513.0 527.5L513.9 527.5L514.8 527.5L515.6 527.5L516.5 528.5L517.4 519.5L518.3 523.5L519.2 521.5L520.0 527.5L520.9 527.5L521.8 527.5L522.7 527.5L523.5 527.5L524.4 527.5L525.3 528.5L526.2 527.5L527.1 535.5L527.9 524.5L528.8 525.5L529.7 524.5L530.6 528.5L531.5 528.5L532.3 528.5L533.2 527.5L534.1 527.5L535.0 528.5L535.8 527.5L536.7 527.5L537.6 535.5L538.5 528.5L539.4 528.5L540.2 527.5L541.1 535.5L542.0 527.5L542.9 526.5L543.8 535.5L544.6 535.5L545.5 528.5L546.4 527.5L547.3 537.5L548.1 528.5L549.0 528.5L549.9 527.5L550.8 537.5L551.7 527.5L552.5 528.5L553.4 527.5L554.3 528.5L555.2 528.5L556.0 528.5L556.9 528.5L557.8 527.5L558.7 527.5L559.6 526.5L560.4 535.5L561.3 527.5L562.2 527.5L563.1 527.5L564.0 527.5L564.8 527.5L565.7 528.5L566.6 516.5L567.5 527.5L568.3 527.5L569.2 528.5L570.1 527.5L571.0 527.5L571.9 537.5L572.7 526.5L573.6 519.5L574.5 526.5L575.4 525.5L576.3 526.5L577.1 526.5L578.0 526.5L578.9 526.5L579.8 526.5L580.6 527.5L581.5 527.5L582.4 527.5L583.3 527.5L584.2 527.5L585.0 528.5L585.9 527.5L586.8 534.5L587.7 528.5L588.6 528.5L589.4 528.5L590.3 527.5L591.2 527.5L592.1 526.5L592.9 527.5L593.8 527.5L594.7 527.5L595.6 527.5L596.5 527.5L597.3 527.5L598.2 527.5L599.1 527.5L600.0 528.5L600.9 528.5L601.7 527.5L602.6 527.5L603.5 526.5L604.4 527.5L605.2 528.5L606.1 536.5L607.0 524.5L607.9 525.5L608.8 524.5L609.6 529.5L610.5 528.5L611.4 528.5L612.3 528.5L613.1 527.5L614.0 528.5L614.9 536.5L615.8 527.5L616.7 528.5L617.5 537.5L618.4 527.5L619.3 528.5L620.2 527.5L621.1 536.5L621.9 536.5L622.8 526.5L623.7 526.5L624.6 527.5L625.4 527.5L626.3 527.5L627.2 526.5L628.1 526.5L629.0 526.5L629.8 535.5L630.7 526.5L631.6 527.5L632.5 537.5L633.4 527.5L634.2 528.5L635.1 527.5L636.0 527.5L636.9 526.5L637.7 528.5L638.6 528.5L639.5 527.5L640.4 527.5L641.3 535.5L642.1 527.5L643.0 527.5L643.9 526.5L644.8 527.5L645.7 535.5L646.5 535.5L647.4 527.5L648.3 520.5L649.2 523.5L650.0 534.5L650.9 526.5L651.8 527.5L652.7 526.5L653.6 526.5L654.4 535.5L655.3 523.5L656.2 523.5L657.1 523.5L658.0 527.5L658.8 527.5L659.7 527.5L660.6 527.5L661.5 535.5L662.3 527.5L663.2 527.5L664.1 527.5L665.0 534.5L665.9 527.5L666.7 527.5L667.6 528.5L668.5 528.5L669.4 527.5L670.3 528.5L671.1 527.5L672.0 526.5L672.9 536.5L673.8 520.5L674.6 526.5L675.5 526.5L676.4 527.5L677.3 527.5L678.2 527.5L679.0 527.5L679.9 527.5L680.8 522.5L681.7 527.5L682.5 528.5L683.4 528.5L684.3 529.5L685.2 534.5L686.1 537.5L686.9 528.5L687.8 527.5L688.7 528.5L689.6 527.5L690.5 523.5L691.3 524.5L692.2 534.5L693.1 527.5L694.0 527.5L694.8 526.5L695.7 527.5L696.6 534.5L697.5 527.5L698.4 528.5L699.2 527.5L700.1 527.5L701.0 527.5L701.9 528.5L702.8 527.5L703.6 527.5L704.5 528.5L705.4 527.5L706.3 527.5L707.1 528.5L708.0 527.5L708.9 527.5L709.8 527.5L710.7 527.5L711.5 526.5L712.4 526.5L713.3 527.5L714.2 522.5L715.1 527.5L715.9 521.5L716.8 522.5L717.7 528.5L718.6 527.5L719.4 527.5L720.3 527.5L721.2 526.5L722.1 526.5L723.0 535.5L723.8 537.5L724.7 521.5L725.6 527.5L726.5 527.5L727.4 537.5L728.2 527.5L729.1 527.5L730.0 527.5L730.9 527.5L731.7 528.5L732.6 537.5L733.5 527.5L734.4 527.5L735.3 526.5L736.1 526.5L737.0 526.5L737.9 526.5L738.8 528.5L739.6 535.5L740.5 537.5L741.4 527.5L742.3 528.5L743.2 528.5L744.0 528.5L744.9 527.5L745.8 527.5L746.7 528.5L747.6 527.5L748.4 527.5L749.3 535.5L750.2 527.5L751.1 515.5L751.9 525.5L752.8 525.5L753.7 525.5L754.6 525.5L755.5 527.5L756.3 528.5L757.2 537.5L758.1 527.5L759.0 526.5L759.9 526.5L760.7 526.5L761.6 526.5L762.5 527.5L763.4 527.5L764.2 527.5L765.1 527.5L766.0 527.5L766.9 526.5L767.8 528.5L768.6 527.5L769.5 528.5L770.4 528.5L771.3 527.5L772.2 527.5L773.0 526.5L773.9 522.5L774.8 526.5L775.7 527.5L776.5 527.5L777.4 533.5L778.3 527.5L779.2 524.5L780.1 527.5L780.9 526.5L781.8 527.5L782.7 526.5L783.6 527.5L784.5 527.5L785.3 526.5L786.2 526.5L787.1 520.5L788.0 522.5L788.8 521.5L789.7 526.5L790.6 528.5L791.5 527.5L792.4 527.5L793.2 527.5L794.1 526.5L795.0 527.5L795.9 527.5L796.8 537.5L797.6 527.5L798.5 527.5L799.4 527.5L800.3 527.5L801.1 528.5L802.0 526.5L802.9 527.5L803.8 528.5L804.7 527.5L805.5 527.5L806.4 528.5L807.3 528.5L808.2 524.5L809.0 526.5L809.9 527.5L810.8 522.5L811.7 522.5L812.6 523.5L813.4 523.5L814.3 528.5L815.2 527.5L816.1 528.5L817.0 527.5L817.8 527.5L818.7 527.5L819.6 537.5L820.5 536.5L821.3 528.5L822.2 528.5L823.1 527.5L824.0 528.5L824.9 527.5L825.7 527.5L826.6 527.5L827.5 527.5L828.4 528.5L829.3 529.5L830.1 535.5L831.0 527.5L831.9 527.5L832.8 528.5L833.6 528.5L834.5 528.5L835.4 528.5L836.3 528.5L837.2 523.5L838.0 524.5L838.9 536.5L839.8 521.5L840.7 527.5L841.6 527.5L842.4 527.5L843.3 527.5L844.2 526.5L845.1 526.5L845.9 525.5L846.8 526.5L847.7 527.5L848.6 527.5L849.5 528.5L850.3 528.5L851.2 527.5L852.1 526.5L853.0 527.5L853.9 528.5L854.7 528.5L855.6 528.5L856.5 527.5L857.4 528.5L858.2 537.5L859.1 528.5L860.0 527.5L860.9 521.5L861.8 521.5L862.6 527.5L863.5 527.5L864.4 527.5L865.3 526.5L866.1 527.5L867.0 527.5L867.9 526.5L868.8 527.5L869.7 527.5L870.5 527.5L871.4 527.5L872.3 529.5L873.2 529.5L874.1 528.5L874.9 528.5L875.8 523.5L876.7 523.5L877.6 525.5L878.4 527.5L879.3 527.5L880.2 534.5L881.1 527.5L882.0 527.5L882.8 527.5L883.7 520.5L884.6 534.5L885.5 528.5L886.4 528.5L887.2 521.5L888.1 527.5L889.0 527.5L889.9 527.5L890.7 528.5L891.6 528.5L892.5 524.5L893.4 528.5L894.3 527.5L895.1 528.5L896.0 527.5L896.9 527.5L897.8 527.5L898.7 527.5L899.5 534.5L900.4 534.5L901.3 528.5L902.2 528.5L903.0 529.5L903.9 511.5L904.8 528.5L905.7 528.5L906.6 528.5L907.4 528.5L908.3 527.5L909.2 527.5L910.1 527.5L911.0 535.5L911.8 527.5L912.7 528.5L913.6 528.5L914.5 537.5L915.3 527.5L916.2 522.5L917.1 527.5L918.0 526.5L918.9 528.5L919.7 526.5L920.6 527.5L921.5 527.5L922.4 524.5L923.2 525.5L924.1 528.5L925.0 528.5L925.9 528.5L926.8 535.5L927.6 527.5L928.5 527.5L929.4 527.5L930.3 527.5L931.2 521.5L932.0 528.5L932.9 523.5L933.8 525.5L934.7 523.5L935.5 519.5L936.4 520.5L937.3 526.5L938.2 526.5L939.1 528.5L939.9 528.5L940.8 520.5L941.7 520.5L942.6 522.5L943.5 527.5L944.3 536.5L945.2 527.5L946.1 535.5L947.0 527.5L947.8 527.5L948.7 528.5L949.6 535.5L950.5 527.5L951.4 527.5L952.2 527.5L953.1 527.5L954.0 528.5L954.9 527.5L955.8 528.5L956.6 528.5L957.5 528.5L958.4 527.5L959.3 526.5L960.1 526.5L961.0 528.5L961.9 528.5L962.8 528.5L963.7 527.5L964.5 537.5L965.4 528.5L966.3 527.5L967.2 527.5L968.1 527.5L968.9 527.5L969.8 526.5L970.7 527.5L971.6 519.5L972.4 521.5L973.3 527.5L974.2 528.5L975.1 527.5L976.0 527.5L976.8 528.5L977.7 528.5L978.6 527.5L979.5 526.5L980.4 527.5L981.2 527.5L982.1 521.5L983.0 523.5L983.9 527.5L984.7 527.5L985.6 527.5L986.5 527.5L987.4 527.5L988.3 527.5L989.1 521.5L990.0 524.5L990.9 536.5L991.8 523.5L992.6 524.5L993.5 529.5L994.4 527.5L995.3 528.5L996.2 528.5L997.0 528.5L997.9 527.5L998.8 537.5L999.7 528.5L1000.6 520.5L1001.4 528.5L1002.3 529.5L1003.2 536.5L1004.1 528.5L1004.9 536.5L1005.8 527.5L1006.7 536.5L1007.6 520.5L1008.5 528.5L1009.3 527.5L1010.2 527.5L1011.1 527.5L1012.0 526.5L1012.9 527.5L1013.7 526.5L1014.6 528.5L1015.5 537.5L1016.4 527.5L1017.2 528.5L1018.1 528.5L1019.0 527.5L1019.9 526.5L1020.8 520.5L1021.6 522.5L1022.5 527.5L1023.4 537.5L1024.3 528.5L1025.2 527.5L1026.0 535.5L1026.9 528.5L1027.8 528.5L1028.7 527.5L1029.5 527.5L1030.4 527.5L1031.3 537.5L1032.2 528.5L1033.1 527.5L1033.9 527.5L1034.8 528.5L1035.7 523.5L1036.6 525.5L1037.5 527.5L1038.3 528.5L1039.2 528.5L1040.1 528.5L1041.0 528.5L1041.8 528.5L1042.7 528.5L1043.6 527.5L1044.5 527.5L1045.4 527.5L1046.2 527.5L1047.1 536.5L1048.0 528.5L1048.9 528.5L1049.8 527.5L1050.6 527.5L1051.5 527.5L1052.4 536.5L1053.3 527.5L1054.1 527.5L1055.0 528.5L1055.9 527.5L1056.8 526.5L1057.7 526.5L1058.5 524.5L1059.4 525.5L1060.3 526.5L1061.2 526.5L1062.0 527.5L1062.9 535.5L1063.8 527.5L1064.7 527.5L1065.6 527.5L1066.4 527.5L1067.3 537.5L1068.2 527.5L1069.1 520.5L1070.0 527.5L1070.8 537.5L1071.7 528.5L1072.6 527.5L1073.5 526.5L1074.3 527.5L1075.2 526.5L1076.1 527.5L1077.0 527.5L1077.9 526.5L1078.7 527.5L1079.6 527.5L1080.5 527.5L1081.4 527.5L1082.3 527.5L1083.1 527.5L1084.0 527.5L1084.9 528.5L1085.8 528.5L1086.6 526.5L1087.5 527.5L1088.4 526.5L1089.3 528.5L1090.2 508.5L1091.0 528.5L1091.9 527.5L1092.8 527.5L1093.7 528.5L1094.6 528.5L1095.4 528.5L1096.3 528.5L1097.2 534.5L1098.1 528.5L1098.9 528.5L1099.8 534.5L1100.7 527.5L1101.6 528.5L1102.5 527.5L1103.3 528.5L1104.2 529.5L1105.1 529.5L1106.0 528.5L1106.9 527.5L1107.7 527.5L1108.6 527.5L1109.5 527.5L1110.4 528.5L1111.2 527.5L1112.1 526.5L1113.0 526.5L1113.9 536.5L1114.8 527.5L1115.6 527.5L1116.5 527.5L1117.4 525.5L1118.3 527.5L1119.1 527.5L1120.0 526.5L1120.9 527.5L1121.8 536.5L1122.7 528.5L1123.5 524.5L1124.4 527.5L1125.3 527.5L1126.2 527.5L1127.1 527.5L1127.9 527.5L1128.8 527.5L1129.7 527.5L1130.6 528.5L1131.4 527.5L1132.3 527.5L1133.2 528.5L1134.1 528.5L1135.0 527.5L1135.8 527.5L1136.7 527.5L1137.6 528.5L1138.5 528.5L1139.4 534.5L1140.2 527.5L1141.1 527.5L1142.0 527.5L1142.9 527.5L1143.7 523.5L1144.6 526.5L1145.5 528.5L1146.4 527.5L1147.3 527.5L1148.1 526.5L1149.0 526.5L1149.9 527.5L1150.8 524.5L1151.7 526.5L1152.5 521.5L1153.4 523.5L1154.3 522.5L1155.2 519.5L1156.0 527.5L1156.9 527.5L1157.8 527.5L1158.7 528.5L1159.6 527.5L1160.4 527.5L1161.3 527.5L1162.2 522.5L1163.1 523.5L1164.0 527.5L1164.8 527.5L1165.7 527.5L1166.6 526.5L1167.5 527.5L1168.3 527.5L1169.2 520.5L1170.1 520.5L1171.0 521.5L1171.9 534.5L1172.7 527.5L1173.6 527.5L1174.5 520.5L1175.4 526.5L1176.2 527.5L1177.1 527.5L1178.0 528.5L1178.9 536.5L1179.8 537.5L1180.6 523.5L1181.5 525.5L1182.4 527.5L1183.3 528.5L1184.2 529.5L1185.0 537.5L1185.9 528.5L1186.8 527.5L1187.7 528.5L1188.5 528.5L1189.4 528.5L1190.3 528.5L1191.2 527.5L1192.1 527.5L1192.9 528.5L1193.8 537.5L1194.7 528.5L1195.6 528.5L1196.5 528.5L1197.3 528.5L1198.2 522.5L1199.1 525.5L1200.0 525.5L1200.8 528.5L1201.7 527.5L1202.6 526.5L1203.5 528.5L1204.4 528.5L1205.2 527.5L1206.1 527.5L1207.0 527.5L1207.9 527.5L1208.8 527.5L1209.6 527.5L1210.5 521.5L1211.4 527.5L1212.3 528.5L1213.1 528.5L1214.0 536.5L1214.9 528.5L1215.8 527.5L1216.7 527.5L1217.5 527.5L1218.4 522.5L1219.3 511.5L1220.2 534.5L1221.1 527.5L1221.9 527.5L1222.8 527.5L1223.7 527.5L1224.6 527.5L1225.4 528.5L1226.3 535.5L1227.2 527.5L1228.1 527.5L1229.0 534.5L1229.8 527.5L1230.7 536.5L1231.6 527.5L1232.5 527.5L1233.4 527.5L1234.2 527.5L1235.1 536.5L1236.0 534.5L1236.9 527.5L1237.7 534.5L1238.6 529.5L1239.5 528.5L1240.4 526.5L1241.3 526.5L1242.1 527.5L1243.0 527.5L1243.9 527.5L1244.8 527.5L1245.6 527.5L1246.5 528.5L1247.4 528.5L1248.3 536.5L1249.2 535.5L1250.0 527.5L1250.9 523.5L1251.8 526.5L1252.7 527.5L1253.6 527.5L1254.4 527.5L1255.3 537.5L1256.2 528.5L1257.1 527.5L1257.9 535.5L1258.8 528.5L1259.7 528.5L1260.6 527.5L1261.5 527.5L1262.3 528.5L1263.2 527.5L1264.1 527.5L1265.0 526.5L1265.9 526.5L1266.7 527.5L1267.6 527.5L1268.5 528.5L1269.4 528.5L1270.2 523.5L1271.1 525.5L1272.0 523.5L1272.9 526.5L1273.8 527.5L1274.6 527.5L1275.5 527.5L1276.4 528.5L1277.3 527.5L1278.2 527.5L1279.0 526.5L1279.9 528.5L1280.8 527.5L1281.7 527.5L1282.5 527.5L1283.4 536.5L1284.3 527.5L1285.2 527.5L1286.1 527.5L1286.9 527.5L1287.8 537.5L1288.7 528.5L1289.6 528.5L1290.5 528.5L1291.3 528.5L1292.2 535.5L1293.1 528.5L1294.0 527.5L1294.8 527.5L1295.7 527.5L1296.6 527.5L1297.5 526.5L1298.4 527.5L1299.2 526.5L1300.1 527.5L1301.0 527.5L1301.9 526.5L1302.8 522.5L1303.6 525.5L1304.5 528.5L1305.4 527.5L1306.3 513.5L1307.1 527.5L1308.0 535.5L1308.9 536.5L1309.8 528.5L1310.7 528.5L1311.5 528.5L1312.4 527.5L1313.3 528.5L1314.2 528.5L1315.0 528.5L1315.9 527.5L1316.8 529.5L1317.7 528.5L1318.6 527.5L1319.4 527.5L1320.3 528.5L1321.2 528.5L1322.1 528.5L1323.0 527.5L1323.8 524.5L1324.7 525.5L1325.6 522.5L1326.5 525.5L1327.3 527.5L1328.2 526.5L1329.1 527.5L1330.0 528.5L1330.9 534.5L1331.7 528.5L1332.6 527.5L1333.5 535.5L1334.4 527.5L1335.3 534.5L1336.1 527.5L1337.0 527.5L1337.9 528.5L1338.8 528.5L1339.6 528.5L1340.5 524.5L1341.4 526.5L1342.3 527.5L1343.2 527.5L1344.0 536.5L1344.9 527.5L1345.8 527.5L1346.7 527.5L1347.6 527.5L1348.4 528.5L1349.3 528.5L1350.2 527.5L1351.1 527.5L1351.9 524.5L1352.8 526.5L1353.7 518.5L1354.6 513.5L1355.5 527.5L1356.3 537.5L1357.2 527.5L1358.1 536.5L1359.0 525.5L1359.9 526.5L1360.7 526.5L1361.6 527.5L1362.5 528.5"/>
<path class="ln" stroke="#0080ff" d="M1362.5 528.5L103.0 526.5"/>
<path class="ln" stroke="#0080ff" d="M732.0 527.5L103.0 527.5"/>
<rect class="cr" x="142.0" y="481.0" width="13" height="13" fill="#00eeee"/>
<rect class="cr" x="200.0" y="481.0" width="13" height="13" fill="#00eeee"/>
<rect class="cr" x="743.0" y="481.0" width="13" height="13" fill="#00eeee"/>
<rect class="cr" x="785.0" y="481.0" width="13" height="13" fill="#00eeee"/>
<rect class="cr" x="873.0" y="481.0" width="13" height="13" fill="#00eeee"/>
<rect class="cr" x="962.0" y="481.0" width="13" height="13" fill="#00eeee"/>
<rect class="cr" x="1051.0" y="481.0" width="13" height="13" fill="#00eeee"/>
<rect class="cr" x="1090.0" y="481.0" width="13" height="13" fill="#00eeee"/>
<rect class="cr" x="1140.0" y="481.0" width="13" height="13" fill="#00eeee"/>
<rect class="cr" x="1228.0" y="481.0" width="13" height="13" fill="#00eeee"/>
<rect class="cr" x="1318.0" y="481.0" width="13" height="13" fill="#00eeee"/>
<g stroke="#c04000" fill="none" stroke-width="1.35"><circle cx="103.5" cy="502.5" r="5.0"/><path d="M103.5 498.0v-2 M103.5 507.0v2 M99.0 502.5h-2 M108.0 502.5h2"/></g>
<g stroke="#c04000" fill="none" stroke-width="1.35"><circle cx="149.3" cy="499.5" r="5.0"/><path d="M149.3 495.0v-2 M149.3 504.0v2 M144.8 499.5h-2 M153.8 499.5h2"/></g>
<g stroke="#c04000" fill="none" stroke-width="1.35"><circle cx="208.3" cy="483.3" r="5.0"/><path d="M208.3 478.8v-2 M208.3 487.8v2 M203.8 483.3h-2 M212.8 483.3h2"/></g>
<g stroke="#c04000" fill="none" stroke-width="1.35"><circle cx="255.0" cy="500.0" r="5.0"/><path d="M255.0 495.5v-2 M255.0 504.5v2 M250.5 500.0h-2 M259.5 500.0h2"/></g>
<g stroke="#c04000" fill="none" stroke-width="1.35"><circle cx="261.3" cy="503.0" r="5.0"/><path d="M261.3 498.5v-2 M261.3 507.5v2 M256.8 503.0h-2 M265.8 503.0h2"/></g>
<g stroke="#c04000" fill="none" stroke-width="1.35"><circle cx="307.5" cy="499.3" r="5.0"/><path d="M307.5 494.8v-2 M307.5 503.8v2 M303.0 499.3h-2 M312.0 499.3h2"/></g>
<g stroke="#c04000" fill="none" stroke-width="1.35"><circle cx="314.3" cy="499.3" r="5.0"/><path d="M314.3 494.8v-2 M314.3 503.8v2 M309.8 499.3h-2 M318.8 499.3h2"/></g>
<g stroke="#c04000" fill="none" stroke-width="1.35"><circle cx="360.5" cy="492.0" r="5.0"/><path d="M360.5 487.5v-2 M360.5 496.5v2 M356.0 492.0h-2 M365.0 492.0h2"/></g>
<g stroke="#c04000" fill="none" stroke-width="1.35"><circle cx="366.3" cy="502.5" r="5.0"/><path d="M366.3 498.0v-2 M366.3 507.0v2 M361.8 502.5h-2 M370.8 502.5h2"/></g>
<g stroke="#c04000" fill="none" stroke-width="1.35"><circle cx="413.8" cy="498.3" r="5.0"/><path d="M413.8 493.8v-2 M413.8 502.8v2 M409.3 498.3h-2 M418.3 498.3h2"/></g>
<g stroke="#c04000" fill="none" stroke-width="1.35"><circle cx="419.5" cy="498.3" r="5.0"/><path d="M419.5 493.8v-2 M419.5 502.8v2 M415.0 498.3h-2 M424.0 498.3h2"/></g>
<g stroke="#c04000" fill="none" stroke-width="1.35"><circle cx="466.3" cy="501.8" r="5.0"/><path d="M466.3 497.3v-2 M466.3 506.3v2 M461.8 501.8h-2 M470.8 501.8h2"/></g>
<g stroke="#c04000" fill="none" stroke-width="1.35"><circle cx="472.5" cy="502.5" r="5.0"/><path d="M472.5 498.0v-2 M472.5 507.0v2 M468.0 502.5h-2 M477.0 502.5h2"/></g>
<g stroke="#c04000" fill="none" stroke-width="1.35"><circle cx="518.8" cy="498.3" r="5.0"/><path d="M518.8 493.8v-2 M518.8 502.8v2 M514.3 498.3h-2 M523.3 498.3h2"/></g>
<g stroke="#c04000" fill="none" stroke-width="1.35"><circle cx="524.5" cy="498.3" r="5.0"/><path d="M524.5 493.8v-2 M524.5 502.8v2 M520.0 498.3h-2 M529.0 498.3h2"/></g>
<g stroke="#c04000" fill="none" stroke-width="1.35"><circle cx="571.8" cy="499.5" r="5.0"/><path d="M571.8 495.0v-2 M571.8 504.0v2 M567.3 499.5h-2 M576.3 499.5h2"/></g>
<g stroke="#c04000" fill="none" stroke-width="1.35"><circle cx="577.5" cy="500.8" r="5.0"/><path d="M577.5 496.3v-2 M577.5 505.3v2 M573.0 500.8h-2 M582.0 500.8h2"/></g>
<g stroke="#c04000" fill="none" stroke-width="1.35"><circle cx="624.3" cy="505.5" r="5.0"/><path d="M624.3 501.0v-2 M624.3 510.0v2 M619.8 505.5h-2 M628.8 505.5h2"/></g>
<g stroke="#c04000" fill="none" stroke-width="1.35"><circle cx="630.3" cy="482.5" r="5.0"/><path d="M630.3 478.0v-2 M630.3 487.0v2 M625.8 482.5h-2 M634.8 482.5h2"/></g>
<g stroke="#c04000" fill="none" stroke-width="1.35"><circle cx="676.3" cy="500.8" r="5.0"/><path d="M676.3 496.3v-2 M676.3 505.3v2 M671.8 500.8h-2 M680.8 500.8h2"/></g>
<g stroke="#c04000" fill="none" stroke-width="1.35"><circle cx="683.3" cy="488.3" r="5.0"/><path d="M683.3 483.8v-2 M683.3 492.8v2 M678.8 488.3h-2 M687.8 488.3h2"/></g>
<g stroke="#c04000" fill="none" stroke-width="1.35"><circle cx="729.3" cy="500.6" r="5.0"/><path d="M729.3 496.1v-2 M729.3 505.1v2 M724.8 500.6h-2 M733.8 500.6h2"/></g>
<g stroke="#c04000" fill="none" stroke-width="1.35"><circle cx="735.5" cy="488.3" r="5.0"/><path d="M735.5 483.8v-2 M735.5 492.8v2 M731.0 488.3h-2 M740.0 488.3h2"/></g>
<g stroke="#c04000" fill="none" stroke-width="1.35"><circle cx="782.3" cy="481.5" r="5.0"/><path d="M782.3 477.0v-2 M782.3 486.0v2 M777.8 481.5h-2 M786.8 481.5h2"/></g>
<g stroke="#c04000" fill="none" stroke-width="1.35"><circle cx="788.3" cy="502.5" r="5.0"/><path d="M788.3 498.0v-2 M788.3 507.0v2 M783.8 502.5h-2 M792.8 502.5h2"/></g>
<g stroke="#c04000" fill="none" stroke-width="1.35"><circle cx="835.5" cy="500.8" r="5.0"/><path d="M835.5 496.3v-2 M835.5 505.3v2 M831.0 500.8h-2 M840.0 500.8h2"/></g>
<g stroke="#c04000" fill="none" stroke-width="1.35"><circle cx="841.8" cy="497.0" r="5.0"/><path d="M841.8 492.5v-2 M841.8 501.5v2 M837.3 497.0h-2 M846.3 497.0h2"/></g>
<g stroke="#c04000" fill="none" stroke-width="1.35"><circle cx="887.5" cy="501.8" r="5.0"/><path d="M887.5 497.3v-2 M887.5 506.3v2 M883.0 501.8h-2 M892.0 501.8h2"/></g>
<g stroke="#c04000" fill="none" stroke-width="1.35"><circle cx="893.5" cy="499.3" r="5.0"/><path d="M893.5 494.8v-2 M893.5 503.8v2 M889.0 499.3h-2 M898.0 499.3h2"/></g>
<g stroke="#c04000" fill="none" stroke-width="1.35"><circle cx="940.3" cy="480.5" r="5.0"/><path d="M940.3 476.0v-2 M940.3 485.0v2 M935.8 480.5h-2 M944.8 480.5h2"/></g>
<g stroke="#c04000" fill="none" stroke-width="1.35"><circle cx="946.5" cy="504.3" r="5.0"/><path d="M946.5 499.8v-2 M946.5 508.8v2 M942.0 504.3h-2 M951.0 504.3h2"/></g>
<g stroke="#c04000" fill="none" stroke-width="1.35"><circle cx="993.3" cy="466.5" r="5.0"/><path d="M993.3 462.0v-2 M993.3 471.0v2 M988.8 466.5h-2 M997.8 466.5h2"/></g>
<g stroke="#c04000" fill="none" stroke-width="1.35"><circle cx="999.3" cy="500.5" r="5.0"/><path d="M999.3 496.0v-2 M999.3 505.0v2 M994.8 500.5h-2 M1003.8 500.5h2"/></g>
<g stroke="#c04000" fill="none" stroke-width="1.35"><circle cx="1045.3" cy="467.3" r="5.0"/><path d="M1045.3 462.8v-2 M1045.3 471.8v2 M1040.8 467.3h-2 M1049.8 467.3h2"/></g>
<g stroke="#c04000" fill="none" stroke-width="1.35"><circle cx="1052.4" cy="502.5" r="5.0"/><path d="M1052.4 498.0v-2 M1052.4 507.0v2 M1047.9 502.5h-2 M1056.9 502.5h2"/></g>
<g stroke="#c04000" fill="none" stroke-width="1.35"><circle cx="1098.3" cy="501.8" r="5.0"/><path d="M1098.3 497.3v-2 M1098.3 506.3v2 M1093.8 501.8h-2 M1102.8 501.8h2"/></g>
<g stroke="#c04000" fill="none" stroke-width="1.35"><circle cx="1104.3" cy="502.5" r="5.0"/><path d="M1104.3 498.0v-2 M1104.3 507.0v2 M1099.8 502.5h-2 M1108.8 502.5h2"/></g>
<g stroke="#c04000" fill="none" stroke-width="1.35"><circle cx="1151.3" cy="502.5" r="5.0"/><path d="M1151.3 498.0v-2 M1151.3 507.0v2 M1146.8 502.5h-2 M1155.8 502.5h2"/></g>
<g stroke="#c04000" fill="none" stroke-width="1.35"><circle cx="1157.5" cy="482.5" r="5.0"/><path d="M1157.5 478.0v-2 M1157.5 487.0v2 M1153.0 482.5h-2 M1162.0 482.5h2"/></g>
<g stroke="#c04000" fill="none" stroke-width="1.35"><circle cx="1203.3" cy="499.5" r="5.0"/><path d="M1203.3 495.0v-2 M1203.3 504.0v2 M1198.8 499.5h-2 M1207.8 499.5h2"/></g>
<g stroke="#c04000" fill="none" stroke-width="1.35"><circle cx="1210.3" cy="483.3" r="5.0"/><path d="M1210.3 478.8v-2 M1210.3 487.8v2 M1205.8 483.3h-2 M1214.8 483.3h2"/></g>
<g stroke="#c04000" fill="none" stroke-width="1.35"><circle cx="1256.3" cy="500.5" r="5.0"/><path d="M1256.3 496.0v-2 M1256.3 505.0v2 M1251.8 500.5h-2 M1260.8 500.5h2"/></g>
<g stroke="#c04000" fill="none" stroke-width="1.35"><circle cx="1262.5" cy="488.3" r="5.0"/><path d="M1262.5 483.8v-2 M1262.5 492.8v2 M1258.0 488.3h-2 M1267.0 488.3h2"/></g>
<g stroke="#c04000" fill="none" stroke-width="1.35"><circle cx="1309.3" cy="503.5" r="5.0"/><path d="M1309.3 499.0v-2 M1309.3 508.0v2 M1304.8 503.5h-2 M1313.8 503.5h2"/></g>
<g stroke="#c04000" fill="none" stroke-width="1.35"><circle cx="1315.5" cy="501.5" r="5.0"/><path d="M1315.5 497.0v-2 M1315.5 506.0v2 M1311.0 501.5h-2 M1320.0 501.5h2"/></g>
<g stroke="#c04000" fill="none" stroke-width="1.35"><circle cx="1362.5" cy="494.5" r="5.0"/><path d="M1362.5 490.0v-2 M1362.5 499.0v2 M1358.0 494.5h-2 M1367.0 494.5h2"/></g>
<circle cx="103.5" cy="536.3" r="5.8" fill="#c8c800"/><path d="M103.5 541.1v1.8M103.5 531.5v-1.8" stroke="#c8c800"/>
<circle cx="149.3" cy="536.3" r="5.8" fill="#c8c800"/><path d="M149.3 541.1v1.8M149.3 531.5v-1.8" stroke="#c8c800"/>
<circle cx="208.3" cy="536.3" r="5.8" fill="#c8c800"/><path d="M208.3 541.1v1.8M208.3 531.5v-1.8" stroke="#c8c800"/>
<circle cx="255.0" cy="536.3" r="5.8" fill="#c8c800"/><path d="M255.0 541.1v1.8M255.0 531.5v-1.8" stroke="#c8c800"/>
<circle cx="261.3" cy="536.3" r="5.8" fill="#c8c800"/><path d="M261.3 541.1v1.8M261.3 531.5v-1.8" stroke="#c8c800"/>
<circle cx="307.5" cy="536.3" r="5.8" fill="#c8c800"/><path d="M307.5 541.1v1.8M307.5 531.5v-1.8" stroke="#c8c800"/>
<circle cx="314.3" cy="536.3" r="5.8" fill="#c8c800"/><path d="M314.3 541.1v1.8M314.3 531.5v-1.8" stroke="#c8c800"/>
<circle cx="360.5" cy="536.3" r="5.8" fill="#c8c800"/><path d="M360.5 541.1v1.8M360.5 531.5v-1.8" stroke="#c8c800"/>
<circle cx="366.3" cy="536.3" r="5.8" fill="#c8c800"/><path d="M366.3 541.1v1.8M366.3 531.5v-1.8" stroke="#c8c800"/>
<circle cx="413.8" cy="536.3" r="5.8" fill="#c8c800"/><path d="M413.8 541.1v1.8M413.8 531.5v-1.8" stroke="#c8c800"/>
<circle cx="419.5" cy="536.3" r="5.8" fill="#c8c800"/><path d="M419.5 541.1v1.8M419.5 531.5v-1.8" stroke="#c8c800"/>
<circle cx="466.3" cy="536.3" r="5.8" fill="#c8c800"/><path d="M466.3 541.1v1.8M466.3 531.5v-1.8" stroke="#c8c800"/>
<circle cx="472.5" cy="536.3" r="5.8" fill="#c8c800"/><path d="M472.5 541.1v1.8M472.5 531.5v-1.8" stroke="#c8c800"/>
<circle cx="518.8" cy="536.3" r="5.8" fill="#c8c800"/><path d="M518.8 541.1v1.8M518.8 531.5v-1.8" stroke="#c8c800"/>
<circle cx="524.5" cy="536.3" r="5.8" fill="#c8c800"/><path d="M524.5 541.1v1.8M524.5 531.5v-1.8" stroke="#c8c800"/>
<circle cx="571.8" cy="536.3" r="5.8" fill="#c8c800"/><path d="M571.8 541.1v1.8M571.8 531.5v-1.8" stroke="#c8c800"/>
<circle cx="577.5" cy="536.3" r="5.8" fill="#c8c800"/><path d="M577.5 541.1v1.8M577.5 531.5v-1.8" stroke="#c8c800"/>
<circle cx="624.3" cy="536.3" r="5.8" fill="#c8c800"/><path d="M624.3 541.1v1.8M624.3 531.5v-1.8" stroke="#c8c800"/>
<circle cx="630.3" cy="536.3" r="5.8" fill="#c8c800"/><path d="M630.3 541.1v1.8M630.3 531.5v-1.8" stroke="#c8c800"/>
<circle cx="676.3" cy="536.3" r="5.8" fill="#c8c800"/><path d="M676.3 541.1v1.8M676.3 531.5v-1.8" stroke="#c8c800"/>
<circle cx="683.3" cy="536.3" r="5.8" fill="#c8c800"/><path d="M683.3 541.1v1.8M683.3 531.5v-1.8" stroke="#c8c800"/>
<circle cx="729.3" cy="536.3" r="5.8" fill="#c8c800"/><path d="M729.3 541.1v1.8M729.3 531.5v-1.8" stroke="#c8c800"/>
<circle cx="735.5" cy="536.3" r="5.8" fill="#c8c800"/><path d="M735.5 541.1v1.8M735.5 531.5v-1.8" stroke="#c8c800"/>
<circle cx="782.3" cy="536.3" r="5.8" fill="#c8c800"/><path d="M782.3 541.1v1.8M782.3 531.5v-1.8" stroke="#c8c800"/>
<circle cx="788.3" cy="536.3" r="5.8" fill="#c8c800"/><path d="M788.3 541.1v1.8M788.3 531.5v-1.8" stroke="#c8c800"/>
<circle cx="835.5" cy="536.3" r="5.8" fill="#c8c800"/><path d="M835.5 541.1v1.8M835.5 531.5v-1.8" stroke="#c8c800"/>
<circle cx="841.8" cy="536.3" r="5.8" fill="#c8c800"/><path d="M841.8 541.1v1.8M841.8 531.5v-1.8" stroke="#c8c800"/>
<circle cx="887.5" cy="536.3" r="5.8" fill="#c8c800"/><path d="M887.5 541.1v1.8M887.5 531.5v-1.8" stroke="#c8c800"/>
<circle cx="893.5" cy="536.3" r="5.8" fill="#c8c800"/><path d="M893.5 541.1v1.8M893.5 531.5v-1.8" stroke="#c8c800"/>
<circle cx="940.3" cy="536.3" r="5.8" fill="#c8c800"/><path d="M940.3 541.1v1.8M940.3 531.5v-1.8" stroke="#c8c800"/>
<circle cx="946.5" cy="536.3" r="5.8" fill="#c8c800"/><path d="M946.5 541.1v1.8M946.5 531.5v-1.8" stroke="#c8c800"/>
<circle cx="993.3" cy="536.3" r="5.8" fill="#c8c800"/><path d="M993.3 541.1v1.8M993.3 531.5v-1.8" stroke="#c8c800"/>
<circle cx="999.3" cy="536.3" r="5.8" fill="#c8c800"/><path d="M999.3 541.1v1.8M999.3 531.5v-1.8" stroke="#c8c800"/>
<circle cx="1045.3" cy="536.3" r="5.8" fill="#c8c800"/><path d="M1045.3 541.1v1.8M1045.3 531.5v-1.8" stroke="#c8c800"/>
<circle cx="1052.4" cy="536.3" r="5.8" fill="#c8c800"/><path d="M1052.4 541.1v1.8M1052.4 531.5v-1.8" stroke="#c8c800"/>
<circle cx="1098.3" cy="536.3" r="5.8" fill="#c8c800"/><path d="M1098.3 541.1v1.8M1098.3 531.5v-1.8" stroke="#c8c800"/>
<circle cx="1104.3" cy="536.3" r="5.8" fill="#c8c800"/><path d="M1104.3 541.1v1.8M1104.3 531.5v-1.8" stroke="#c8c800"/>
<circle cx="1151.3" cy="536.3" r="5.8" fill="#c8c800"/><path d="M1151.3 541.1v1.8M1151.3 531.5v-1.8" stroke="#c8c800"/>
<circle cx="1157.5" cy="536.3" r="5.8" fill="#c8c800"/><path d="M1157.5 541.1v1.8M1157.5 531.5v-1.8" stroke="#c8c800"/>
<circle cx="1203.3" cy="536.3" r="5.8" fill="#c8c800"/><path d="M1203.3 541.1v1.8M1203.3 531.5v-1.8" stroke="#c8c800"/>
<circle cx="1210.3" cy="536.3" r="5.8" fill="#c8c800"/><path d="M1210.3 541.1v1.8M1210.3 531.5v-1.8" stroke="#c8c800"/>
<circle cx="1256.3" cy="536.3" r="5.8" fill="#c8c800"/><path d="M1256.3 541.1v1.8M1256.3 531.5v-1.8" stroke="#c8c800"/>
<circle cx="1262.5" cy="536.3" r="5.8" fill="#c8c800"/><path d="M1262.5 541.1v1.8M1262.5 531.5v-1.8" stroke="#c8c800"/>
<circle cx="1309.3" cy="536.3" r="5.8" fill="#c8c800"/><path d="M1309.3 541.1v1.8M1309.3 531.5v-1.8" stroke="#c8c800"/>
<circle cx="1315.5" cy="536.3" r="5.8" fill="#c8c800"/><path d="M1315.5 541.1v1.8M1315.5 531.5v-1.8" stroke="#c8c800"/>
<circle cx="1362.5" cy="536.3" r="5.8" fill="#c8c800"/><path d="M1362.5 541.1v1.8M1362.5 531.5v-1.8" stroke="#c8c800"/>
<path class="cr" fill="#306080" d="M93 350H162L154 362.5H101Z"/>
<path class="cr" fill="#306080" d="M199 350H1374L1366 362.5H207Z"/>
<path d="M1367.4 350.6L1363.2 358.6" stroke="#fff" stroke-width="0.7" fill="none"/>
<path class="cr" fill="#fff" d="M1281 362h1v1h-1zM1360 362h1v1h-1zM273 362h1v1h-1zM640 362h1v1h-1zM905 362h1v1h-1z"/>
<rect class="cr" x="101.5" y="57.5" width="1265" height="482" fill="none" stroke="#000"/>
</svg></body></html>
